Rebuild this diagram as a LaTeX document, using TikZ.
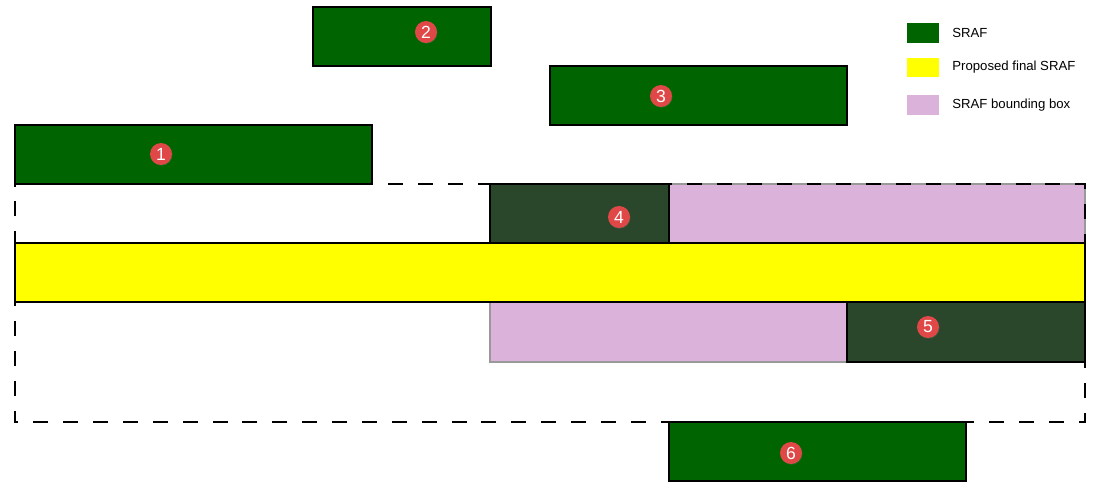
\documentclass[tikz,border=0pt]{standalone}
\usepackage{fontspec}
\setmainfont{Liberation Sans}
\usepackage{tikz}
\usetikzlibrary{positioning,shadows}

\definecolor{srafgreen}{HTML}{006400}
\definecolor{overlapgreen}{HTML}{2B472B}
\definecolor{bboxpink}{HTML}{DAB2DA}
\definecolor{finalyellow}{HTML}{FFFF00}
\definecolor{badgered}{HTML}{E04848}

\tikzset{
	sraf/.style={draw=black,line width=0.6pt,fill=srafgreen},
	overlap/.style={draw=black,line width=0.6pt,fill=overlapgreen},
	bbox/.style={draw=black!40,line width=0.8pt,fill=bboxpink},
	final/.style={draw=black,line width=1.2pt,fill=finalyellow},
	badge/.style={circle,fill=badgered,text=white,inner sep=0pt,minimum size=12.5pt,
			font=\fontsize{10}{10}\selectfont,drop shadow={shadow xshift=0.3pt,shadow yshift=-0.4pt,opacity=0.3}},
	legendtext/.style={anchor=west,font=\fontsize{7.5}{9}\selectfont,inner sep=0pt}
}

\begin{document}
\begin{tikzpicture}[x=0.02cm,y=-0.02cm]
	\useasboundingbox (0,0) rectangle (1094,490);

	% SRAFs
	\draw[sraf] (313,7) rectangle (491,66);
	\draw[sraf] (550,66) rectangle (847,125);
	\draw[sraf] (15,125) rectangle (372,184);
	\draw[sraf] (669,422) rectangle (966,481);

	% bounding boxes
	\draw[bbox] (669,184) rectangle (1085,243);
	\draw[bbox] (490,302) rectangle (847,362);
	\draw[overlap] (490,184) rectangle (669,243);
	\draw[overlap] (847,302) rectangle (1085,362);

	% proposed final SRAF
	\draw[final] (15,243) rectangle (1085,302);
	\draw[line width=1.4pt,dash pattern=on 8.5pt off 8.5pt,dash phase=-8.5pt] (15,184) -- (1085,184) -- (1085,422) -- (15,422) -- cycle;

	% numbers
	\node[badge] (n1) at (161,154) {1};
	\node[badge] (n2) at (426,32) {2};
	\node[badge] (n3) at (661,96) {3};
	\node[badge] (n4) at (619,217) {4};
	\node[badge] (n5) at (928,327) {5};
	\node[badge] (n6) at (791,453) {6};

	% legend
	\fill[srafgreen] (907,23) rectangle (939,43);
	\fill[finalyellow] (907,58) rectangle (939,77);
	\fill[bboxpink] (907,95) rectangle (939,115);
	\node[legendtext] (l1) at (952,33) {SRAF};
	\node[legendtext] (l2) at (952,67) {Proposed final SRAF};
	\node[legendtext] (l3) at (952,105) {SRAF bounding box};
\end{tikzpicture}
\end{document}
